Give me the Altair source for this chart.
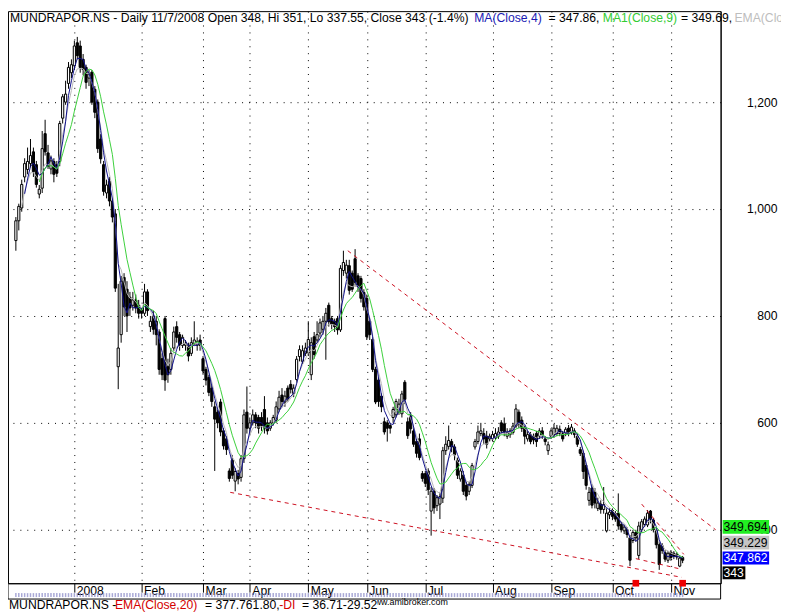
import altair as alt
import pandas as pd
import numpy as np

# ---------------- data ----------------
opens = [941,978,1002,1060,1074,1085,1107,1083,1028,1039,1141,1105,1075,1089,1083,1089,1170,1200,1235,1255,
         1268,1311,1305,1280,1265,1245,1256,1224,1200,1131,1083,1030,1052,1015,991,705,765,872,850,835,
         820,830,820,810,805,845,780,800,790,770,720,795,705,700,740,780,765,745,745,745,
         730,748,745,755,720,700,685,665,630,620,639,585,570,510,530,491,505,498,533,620,
         590,600,615,610,610,625,600,590,600,605,626,652,639,665,672,655,681,724,715,730,
         731,690,761,755,768,775,790,820,795,790,795,774,885,880,894,880,907,875,870,844,
         833,790,756,700,680,650,602,600,595,610,615,620,617,676,602,613,585,565,570,505,
         505,510,435,472,445,448,459,548,556,565,555,530,495,502,483,472,483,555,565,580,
         580,575,570,570,572,575,600,598,575,578,582,594,620,605,590,570,578,575,580,575,
         585,570,548,575,578,580,588,580,580,590,582,585,575,550,543,520,455,478,470,440,
         448,438,398,428,436,430,431,410,398,400,385,380,395,352,400,410,409,435,418,398,
         372,370,357,343,358,356,354,332,348]
highs = [985,1010,1055,1095,1115,1131,1115,1090,1045,1146,1167,1120,1100,1095,1090,1165,1215,1240,1275,1280,
         1315,1322,1315,1290,1270,1260,1260,1230,1205,1140,1090,1055,1060,1020,1000,860,875,880,865,845,
         845,840,830,815,860,850,800,810,800,775,730,800,720,740,780,790,770,765,755,750,
         760,790,760,765,725,705,690,670,640,625,645,590,575,515,540,515,512,540,625,668,
         610,625,620,615,620,650,610,605,615,640,660,665,660,670,680,672,725,745,745,750,
         790,760,770,790,795,800,815,825,800,795,800,895,922,905,905,885,925,880,875,850,
         840,795,760,705,685,655,610,605,600,630,645,645,660,680,610,620,590,570,580,510,
         510,515,480,478,465,470,555,575,595,570,560,535,515,510,490,490,525,570,595,600,
         590,585,580,585,590,592,605,610,590,590,600,635,625,612,595,585,583,580,585,590,
         592,575,565,590,598,596,595,585,592,596,598,590,580,555,548,525,480,485,478,460,
         455,480,440,440,440,435,468,415,410,405,390,400,400,415,420,425,437,437,422,402,
         378,375,362,360,362,360,358,352,351]
lows = [922,960,995,1050,1065,1078,1060,1040,1020,1030,1100,1075,1065,1050,1060,1080,1160,1195,1225,1245,
        1260,1280,1255,1250,1225,1230,1195,1170,1105,1085,1025,1020,1005,975,845,663,750,800,770,800,
        810,805,795,795,800,800,770,765,745,690,680,660,675,690,735,750,735,740,735,715,
        725,745,735,735,690,670,650,630,510,590,575,550,540,490,495,472,485,490,525,580,
        580,595,590,580,585,580,578,585,595,600,620,630,630,640,655,648,675,715,710,725,
        725,680,720,750,760,765,718,780,775,770,765,770,875,870,840,845,855,845,825,810,
        755,755,695,635,630,620,578,565,580,600,610,615,610,635,570,580,555,535,530,490,
        480,465,389,430,435,420,450,540,550,545,530,495,490,465,455,465,478,550,560,575,
        560,552,565,565,568,570,580,575,570,572,578,590,590,583,560,565,560,560,555,570,
        570,558,540,570,572,575,575,565,575,575,578,572,555,538,495,475,445,440,440,435,
        430,430,395,420,418,415,400,395,392,385,332,375,378,345,395,405,405,412,395,365,
        325,355,340,338,342,345,344,330,337.55]
closes = [978,1005,1046,1085,1089,1100,1070,1046,1037,1113,1107,1080,1090,1065,1067,1160,1210,1215,1265,1270,
          1305,1287,1265,1261,1237,1252,1200,1181,1113,1094,1033,1045,1015,985,852,740,865,817,800,815,
          830,815,805,805,845,810,790,775,765,700,690,680,690,730,770,760,745,760,748,725,
          750,755,752,745,697,680,657,640,607,600,583,557,550,496,502,509,495,533,615,590,
          600,615,600,590,595,590,585,600,610,630,648,640,650,645,663,665,719,737,735,740,
          756,750,728,765,787,790,805,789,785,780,774,889,900,895,848,850,863,855,833,817,
          761,765,700,639,640,630,583,590,590,625,640,635,654,644,576,589,560,543,535,496,
          487,475,472,441,460,462,548,560,567,555,540,502,510,472,463,485,520,565,583,585,
          570,560,575,578,580,583,585,583,582,585,594,626,598,590,575,578,565,568,565,585,
          578,565,559,585,590,590,580,570,588,580,592,578,560,543,509,483,470,446,450,450,
          438,447,431,433,425,420,407,400,405,391,343,395,385,407,415,420,431,420,400,372,
          335,361,345,356,348,350,349,347,343]

month_idx = [20, 43, 64, 80, 100, 120, 140, 163, 183, 204, 224]
month_lbl = ["2008", "Feb", "Mar", "Apr", "May", "Jun", "Jul", "Aug", "Sep", "Oct", "Nov"]
price_ticks = [400, 600, 800, 1000, 1200]

# dashed trendlines (bar index, price)
tl_seg = ["upper", "upper", "lower", "lower", "low2", "low2", "up2", "up2"]
tl_i = [113.5, 239.3, 73.3, 227.7, 212.0, 227.7, 214.0, 228.4]
tl_p = [922, 400, 470, 311, 346, 326, 448, 354]

marker_i = [212, 228]

title_txt = ["MUNDRAPOR.NS - Daily 11/7/2008 Open 348, Hi 351, Lo 337.55, Close 343 (-1.4%)",
             "MA(Close,4)", "= 347.86,", "MA1(Close,9)", "= 349.69,", "EMA(Close,5)"]
bottom_txt = ["MUNDRAPOR.NS -", "EMA(Close,20)", "= 377.761.80,", "-DI", "= 36.71-29.52"]
box_txt = ["349.694", "349.229", "347.862", "343"]

# ---------------- frames ----------------
n = len(closes)
df = pd.DataFrame({"i": np.arange(n), "open": opens, "high": highs, "low": lows, "close": closes})
ma4 = df.close.rolling(4).mean()
ma9 = df.close.rolling(9).mean()
ema5 = df.close.ewm(span=5, adjust=False).mean()
df_ma4 = pd.DataFrame({"i": df.i, "v": ma4}).dropna()
df_ma9 = pd.DataFrame({"i": df.i, "v": ma9}).dropna()
df_ema = pd.DataFrame({"i": df.i, "v": ema5}).iloc[2:]

FONT = "Liberation Sans"
FS = 12.3
xs = alt.Scale(domain=[-1, 239.3], nice=False, zero=False)
ys = alt.Scale(domain=[300, 1370.2], nice=False, zero=False)

label_expr = "[" + ",".join("'%s'" % m for m in month_lbl) + "][indexof([" + \
    ",".join(str(v) for v in month_idx) + "], datum.value)]"

x_axis = alt.Axis(values=month_idx, labelExpr=label_expr, orient="bottom", grid=True,
                  gridDash=[1, 6], gridColor="black", gridOpacity=1, gridWidth=1,
                  tickSize=9, tickColor="black", tickWidth=1, labelAlign="left", labelOffset=2,
                  labelBaseline="alphabetic", labelPadding=2, labelFont=FONT, labelFontSize=FS,
                  labelColor="black", domainColor="black", title=None, labelFlush=False,
                  labelOverlap=False, labelBound=False)
y_axis = alt.Axis(values=price_ticks, format=",.0f", orient="right", grid=True,
                  gridDash=[1, 6], gridColor="black", gridOpacity=1, gridWidth=1,
                  ticks=False, tickSize=0, labelAlign="right", labelPadding=57,
                  labelBaseline="middle", labelFont=FONT, labelFontSize=FS, labelColor="black",
                  domainColor="black", title=None, labelFlush=False, labelOverlap=False)

X = alt.X("i:Q", scale=xs, axis=x_axis)


def Y(field):
    return alt.Y(field, scale=ys, axis=y_axis)


base = alt.Chart(df)
wicks = base.mark_rule(color="black", strokeWidth=1).encode(x=X, y=Y("low:Q"), y2="high:Q")
bodies = base.mark_bar(size=2.2, stroke="black", strokeWidth=1).encode(
    x=X, y=Y("open:Q"), y2="close:Q",
    fill=alt.condition("datum.close >= datum.open", alt.value("white"), alt.value("black")))


def ma_line(d, color):
    return alt.Chart(d).mark_line(color=color, strokeWidth=1, clip=True).encode(x=X, y=Y("v:Q"))


l_ema = ma_line(df_ema, "#b8b8b8")
l_ma4 = ma_line(df_ma4, "#10108c")
l_ma9 = ma_line(df_ma9, "#3ccf3c")

tl = alt.Chart(pd.DataFrame({"seg": tl_seg, "i": tl_i, "p": tl_p})).mark_line(
    color="#cc1020", strokeWidth=1, strokeDash=[4, 4], clip=True).encode(
    x=X, y=Y("p:Q"), detail="seg:N")

marks = alt.Chart(pd.DataFrame({"i": marker_i})).mark_square(
    size=45, color="#ee0000", opacity=1, filled=True).encode(x=X, y=alt.value(578))

stripes = alt.Chart(df).mark_tick(color="#8585c4", thickness=1.5, size=4).encode(
    x=X, y=alt.value(590))

PX = dict(scale=None, axis=None)

borders = alt.Chart(pd.DataFrame({"k": ["l", "r", "b"],
                                  "x1": [0, 720, 0], "x2": [0, 720, 720],
                                  "y1": [578, 578, 594], "y2": [594, 594, 594]})).mark_rule(
    color="black", strokeWidth=1).encode(
    x=alt.X("x1:Q", **PX), x2="x2:Q", y=alt.Y("y1:Q", **PX), y2="y2:Q")

# title texts
title_df = pd.DataFrame({"t": title_txt, "x": [2, 471, 546, 601, 680, 734],
                         "c": ["black", "#1a1ab4", "black", "#33cc33", "black", "#bdbdbd"]})
title = alt.Chart(title_df).mark_text(align="left", baseline="alphabetic", font=FONT,
                                      fontSize=FS).encode(
    x=alt.X("x:Q", **PX), y=alt.value(11), text="t:N", color=alt.Color("c:N", scale=None))

# bottom texts
ami = alt.Chart(pd.DataFrame({"t": ["www.amibroker.com"]})).mark_text(
    align="left", baseline="alphabetic", font=FONT, fontSize=9, color="black").encode(
    x=alt.value(364), y=alt.value(600), text="t:N")
cover = alt.Chart(pd.DataFrame({"a": [0]})).mark_rect(color="white").encode(
    x=alt.value(293), x2=alt.value(373), y=alt.value(595), y2=alt.value(614))
bot_df = pd.DataFrame({"t": bottom_txt, "x": [1, 108, 199, 274, 297],
                       "c": ["black", "#d40000", "black", "#d40000", "black"]})
bottom = alt.Chart(bot_df).mark_text(align="left", baseline="alphabetic", font=FONT,
                                     fontSize=FS).encode(
    x=alt.X("x:Q", **PX), y=alt.value(604), text="t:N", color=alt.Color("c:N", scale=None))

# value boxes on the right
box_df = pd.DataFrame({"t": box_txt,
                       "x1": [722, 722, 722, 722], "x2": [769, 769, 769, 745],
                       "y1": [514, 530, 546, 561], "y2": [528, 544, 559, 574],
                       "bg": ["#22ee22", "#c4c4c4", "#0000ff", "#000000"],
                       "fg": ["black", "black", "white", "white"]})
boxes = alt.Chart(box_df).mark_rect().encode(
    x=alt.X("x1:Q", **PX), x2="x2:Q", y=alt.Y("y1:Q", **PX), y2="y2:Q",
    fill=alt.Color("bg:N", scale=None))
box_text = alt.Chart(box_df).transform_calculate(ym="(datum.y1 + datum.y2) / 2").mark_text(
    align="left", baseline="middle", font=FONT, fontSize=FS).encode(
    x=alt.value(723), y=alt.Y("ym:Q", **PX), text="t:N", color=alt.Color("fg:N", scale=None))

chart = alt.layer(wicks, bodies, l_ema, l_ma4, l_ma9, tl, stripes, borders, marks,
                  title, ami, cover, bottom, boxes, box_text).properties(
    width=720, height=578,
    padding={"left": 0, "top": 0, "right": 61, "bottom": 36},
    autosize=alt.AutoSizeParams(type="none"),
    background="white",
).configure_view(stroke="black", strokeWidth=1)

chart.save("out.html", embed_options={"renderer": "svg", "actions": False})
